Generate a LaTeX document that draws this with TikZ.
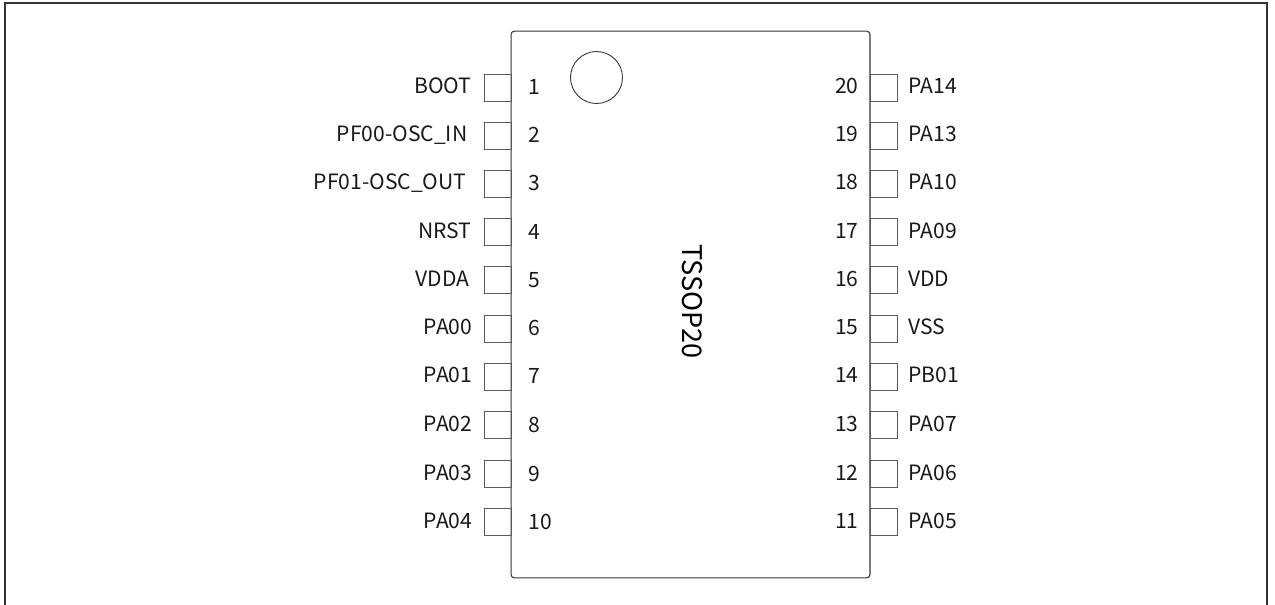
\documentclass[tikz,border=0pt]{standalone}
\usepackage{fontspec}
\setmainfont{Noto Sans CJK SC}
\usetikzlibrary{calc}
\tikzset{
pad/.style={draw=black!65,line width=0.5pt,minimum width=0.54cm,minimum height=0.54cm,inner sep=0pt,outer sep=0pt},
pinname/.style={font=\fontsize{12pt}{14pt}\selectfont,text=black!90,inner sep=0pt},
pinnum/.style={font=\fontsize{12pt}{14pt}\selectfont,text=black!90,inner sep=0pt}
}
\begin{document}
\begin{tikzpicture}[x=0.02cm,y=-0.02cm]
\useasboundingbox (0,0) rectangle (1275,605);
\draw[line width=0.9pt,black!80] (5,605) -- (5,3) -- (1267,3) -- (1267,605);
\node[draw=black!80,line width=0.6pt,rounded corners=2pt,minimum width=7.18cm,minimum height=10.94cm,inner sep=0pt] (chip) at (690.5,304.5) {};
\node[draw=black!80,line width=0.5pt,circle,minimum size=1.04cm,inner sep=0pt] (mark) at (596.5,77.5) {};
\node[rotate=-90,font=\fontsize{15.4pt}{18pt}\selectfont,inner sep=0pt] (title) at (692,301.5) {TSSOP20};
% left side
\node[pad] (p1) at (497.5,87.5) {};
\node[pad] (p2) at (497.5,135.5) {};
\node[pad] (p3) at (497.5,183.5) {};
\node[pad] (p4) at (497.5,232) {};
\node[pad] (p5) at (497.5,280) {};
\node[pad] (p6) at (497.5,328.5) {};
\node[pad] (p7) at (497.5,376.5) {};
\node[pad] (p8) at (497.5,425) {};
\node[pad] (p9) at (497.5,474) {};
\node[pad] (p10) at (497.5,522) {};
\node[pinname,anchor=base east] (n1) at (471.7,93) {BOOT};
\node[pinname,anchor=base east] (n2) at (467.7,141.5) {PF00-OSC\_IN};
\node[pinname,anchor=base east] (n3) at (466.7,189.5) {PF01-OSC\_OUT};
\node[pinname,anchor=base east] (n4) at (471.7,238) {NRST};
\node[pinname,anchor=base east] (n5) at (469.7,286) {VDDA};
\node[pinname,anchor=base east] (n6) at (472.7,334.5) {PA00};
\node[pinname,anchor=base east] (n7) at (472.7,382.5) {PA01};
\node[pinname,anchor=base east] (n8) at (472.7,431) {PA02};
\node[pinname,anchor=base east] (n9) at (472.7,480) {PA03};
\node[pinname,anchor=base east] (n10) at (472.7,528) {PA04};
\node[pinnum,anchor=base west] (k1) at (528.3,94) {1};
\node[pinnum,anchor=base west] (k2) at (528.3,142.5) {2};
\node[pinnum,anchor=base west] (k3) at (528.3,190.5) {3};
\node[pinnum,anchor=base west] (k4) at (528.3,239) {4};
\node[pinnum,anchor=base west] (k5) at (528.3,287) {5};
\node[pinnum,anchor=base west] (k6) at (528.3,335.5) {6};
\node[pinnum,anchor=base west] (k7) at (528.3,383.5) {7};
\node[pinnum,anchor=base west] (k8) at (528.3,432) {8};
\node[pinnum,anchor=base west] (k9) at (528.3,481) {9};
\node[pinnum,anchor=base west] (k10) at (528.3,529) {10};
% right side
\node[pad] (p20) at (883.5,87.5) {};
\node[pad] (p19) at (883.5,135.5) {};
\node[pad] (p18) at (883.5,183.5) {};
\node[pad] (p17) at (883.5,232) {};
\node[pad] (p16) at (883.5,280) {};
\node[pad] (p15) at (883.5,328.5) {};
\node[pad] (p14) at (883.5,376.5) {};
\node[pad] (p13) at (883.5,425) {};
\node[pad] (p12) at (883.5,474) {};
\node[pad] (p11) at (883.5,522) {};
\node[pinname,anchor=base west] (n20) at (908,93) {PA14};
\node[pinname,anchor=base west] (n19) at (908,141.5) {PA13};
\node[pinname,anchor=base west] (n18) at (908,189.5) {PA10};
\node[pinname,anchor=base west] (n17) at (908,238) {PA09};
\node[pinname,anchor=base west] (n16) at (908,286) {VDD};
\node[pinname,anchor=base west] (n15) at (908,334.5) {VSS};
\node[pinname,anchor=base west] (n14) at (908,382.5) {PB01};
\node[pinname,anchor=base west] (n13) at (908,431) {PA07};
\node[pinname,anchor=base west] (n12) at (908,480) {PA06};
\node[pinname,anchor=base west] (n11) at (908,528) {PA05};
\node[pinnum,anchor=base east] (k20) at (859,93) {20};
\node[pinnum,anchor=base east] (k19) at (859,141.5) {19};
\node[pinnum,anchor=base east] (k18) at (859,189.5) {18};
\node[pinnum,anchor=base east] (k17) at (859,238) {17};
\node[pinnum,anchor=base east] (k16) at (859,286) {16};
\node[pinnum,anchor=base east] (k15) at (859,334.5) {15};
\node[pinnum,anchor=base east] (k14) at (859,382.5) {14};
\node[pinnum,anchor=base east] (k13) at (859,431) {13};
\node[pinnum,anchor=base east] (k12) at (859,480) {12};
\node[pinnum,anchor=base east] (k11) at (859,528) {11};
\end{tikzpicture}
\end{document}
